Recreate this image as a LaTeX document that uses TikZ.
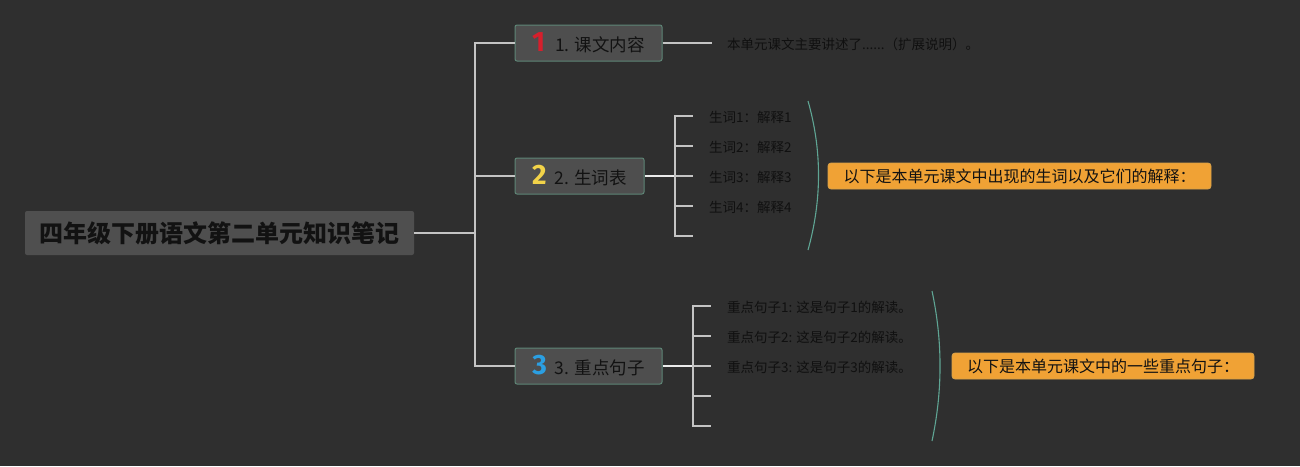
\documentclass[tikz,border=0pt]{standalone}
\usepackage{fontspec}
\setmainfont{Noto Sans CJK SC}
\newfontfamily\markfont{Fira Sans}
\definecolor{bg}{HTML}{2F2F2F}
\definecolor{linegray}{HTML}{C4C4C4}
\definecolor{topicfill}{HTML}{4E4E4E}
\definecolor{topicborder}{HTML}{5E8676}
\definecolor{rootfill}{HTML}{4F4F4F}
\definecolor{txt}{HTML}{121212}
\definecolor{subtxt}{HTML}{101010}
\definecolor{bracecol}{HTML}{5FA594}
\definecolor{orangefill}{HTML}{F0A235}
\definecolor{orangeborder}{HTML}{D9A24A}
\definecolor{mred}{HTML}{D61F2C}
\definecolor{myellow}{HTML}{F2D349}
\definecolor{mblue}{HTML}{2B9FE2}
\tikzset{
  mainline/.style={draw=linegray, line width=1.5pt},
  boldline/.style={draw=white!92!black, line width=2.2pt},
  rootbox/.style={fill=rootfill, rounded corners=2pt, minimum width=389pt, minimum height=44pt, inner sep=0pt, text=txt, font=\fontsize{24}{27}\selectfont\bfseries},
  topic/.style={draw=topicborder, fill=topicfill, rounded corners=2pt, line width=1pt, minimum height=36pt, inner sep=0pt, text=txt, font=\fontsize{17.5}{20}\selectfont},
  subitem/.style={anchor=west, inner sep=0pt, text=subtxt, font=\fontsize{13.5}{15}\selectfont},
  summary/.style={draw=orangeborder, fill=orangefill, rounded corners=3pt, line width=0.8pt, minimum height=26pt, inner sep=0pt, text=txt, font=\fontsize{16}{18}\selectfont},
  bracecurve/.style={draw=bracecol, line width=1.1pt},
}
\newcommand{\mk}[2]{{\markfont\bfseries\fontsize{28}{28}\selectfont\color{#1}#2}}
\begin{document}
\begin{tikzpicture}[x=1pt,y=-1pt]
\fill[bg] (0,0) rectangle (1300,466);
\useasboundingbox (0,0) rectangle (1300,466);

% root
\node[rootbox] (root) at (219.5,233) {四年级下册语文第二单元知识笔记};
\coordinate (hub) at (475,233);

% topics
\node[topic, minimum width=147pt] (t1) at (588.5,43) {\mk{mred}{1}\hspace{10pt}1. 课文内容};
\node[topic, minimum width=129pt] (t2) at (579.5,176) {\mk{myellow}{2}\hspace{8pt}2. 生词表};
\node[topic, minimum width=147pt] (t3) at (588.5,366) {\mk{mblue}{3}\hspace{8pt}3. 重点句子};

\draw[mainline] (root.east) -- (hub);
\draw[mainline] (hub) |- (t1.west);
\draw[mainline] (hub) |- (t2.west);
\draw[mainline] (hub) |- (t3.west);

% topic 1 detail
\node[subitem] (d1) at (727,44) {本单元课文主要讲述了......（扩展说明）。};
\draw[mainline] (t1.east) -- (712,43);

% topic 2 children
\coordinate (h2) at (675,176);
\node[subitem] (w1) at (709,117) {生词1：解释1};
\node[subitem] (w2) at (709,147) {生词2：解释2};
\node[subitem] (w3) at (709,177) {生词3：解释3};
\node[subitem] (w4) at (709,207) {生词4：解释4};
\coordinate (w5) at (693,236);
\draw[boldline] (t2.east) -- (h2);
\foreach \n/\y in {w1/116,w2/146,w3/176,w4/206,w5/236}
  \draw[mainline] (h2) |- (693,\y);

\draw[bracecurve] (808,101) .. controls (822,150) and (822,200) .. (808,250);
\node[summary, minimum width=383pt] (s2) at (1019.5,176) {以下是本单元课文中出现的生词以及它们的解释：};

% topic 3 children
\coordinate (h3) at (693,366);
\node[subitem] (k1) at (727,307) {重点句子1: 这是句子1的解读。};
\node[subitem] (k2) at (727,337) {重点句子2: 这是句子2的解读。};
\node[subitem] (k3) at (727,367) {重点句子3: 这是句子3的解读。};
\draw[boldline] (t3.east) -- (h3);
\foreach \y in {306,336,366,396,426}
  \draw[mainline] (h3) |- (711,\y);

\draw[bracecurve] (932,291) .. controls (942.7,341) and (942.7,391) .. (932,441);
\node[summary, minimum width=302pt] (s3) at (1103,366) {以下是本单元课文中的一些重点句子：};
\end{tikzpicture}
\end{document}
